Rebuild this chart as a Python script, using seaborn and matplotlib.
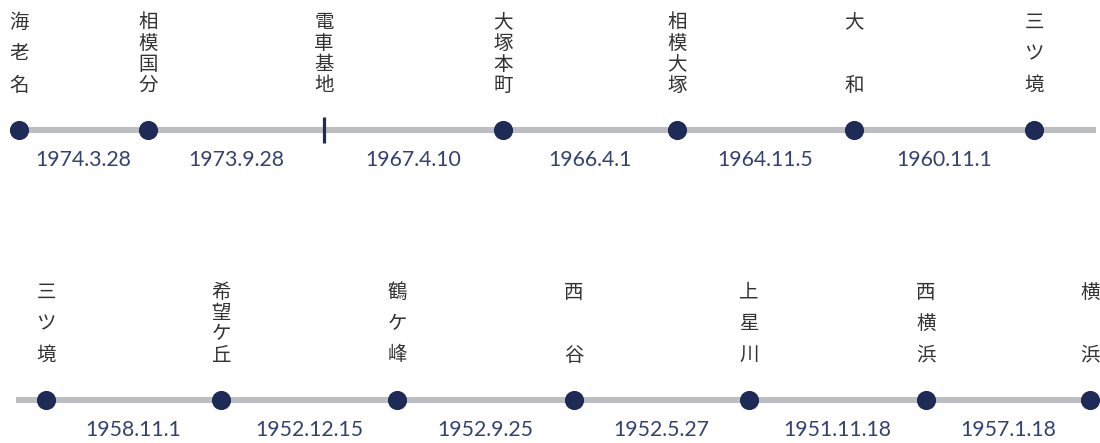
import pandas as pd
import matplotlib.pyplot as plt
import seaborn as sns

# station names, opening dates of each section, and where each stop sits on its line
top_names = ['海老名', '相模国分', '電車基地', '大塚本町', '相模大塚', '大和', '三ツ境']
top_pos = [19, 148, 324, 503, 677, 854, 1034]
top_kind = ['stop', 'stop', 'depot', 'stop', 'stop', 'stop', 'stop']
top_dates = ['1974.3.28', '1973.9.28', '1967.4.10', '1966.4.1', '1964.11.5', '1960.11.1']

bottom_names = ['三ツ境', '希望ケ丘', '鶴ケ峰', '西谷', '上星川', '西横浜', '横浜']
bottom_pos = [46, 221, 397, 574, 749, 926, 1090]
bottom_kind = ['stop'] * 7
bottom_dates = ['1958.11.1', '1952.12.15', '1952.9.25', '1952.5.27', '1951.11.18', '1957.1.18']

line_ends = [(10, 1096), (16, 1096)]
row_y = [130, 400]

navy = '#1e2b57'
grey = '#bdbec2'
date_col = '#34426f'
text_col = '#333333'

sns.set_theme(style='white')
plt.rcParams['font.family'] = ['Noto Sans CJK JP', 'DejaVu Sans']

fig = plt.figure(figsize=(11, 4.43), dpi=100)
ax = fig.add_axes([0, 0, 1, 1])

rows = [
    (top_names, top_pos, top_kind, top_dates),
    (bottom_names, bottom_pos, bottom_kind, bottom_dates),
]

for (names, pos, kind, dates), y, (x0, x1) in zip(rows, row_y, line_ends):
    line = pd.DataFrame({'x': [x0, x1], 'y': [y, y]})
    sns.lineplot(data=line, x='x', y='y', color=grey, linewidth=4.4,
                 solid_capstyle='butt', ax=ax, zorder=1)

    st = pd.DataFrame({'name': names, 'x': pos, 'kind': kind})
    st['y'] = y
    stops = st[st['kind'] == 'stop']
    depots = st[st['kind'] == 'depot']
    sns.scatterplot(data=stops, x='x', y='y', color=navy, s=190,
                    linewidth=0, ax=ax, zorder=3)
    if len(depots):
        sns.scatterplot(data=depots, x='x', y='y', color=navy, marker='|',
                        s=340, linewidth=2.3, ax=ax, zorder=3)

    # vertical, justified station names
    for name, x in zip(names, pos):
        n = len(name)
        for i, ch in enumerate(name):
            cy = y - 108 + i * 63 / (n - 1)
            ax.text(x, cy, ch, ha='center', va='center', fontsize=14,
                    color=text_col)

    # section opening dates between stops
    for i, d in enumerate(dates):
        mx = (pos[i] + pos[i + 1]) / 2
        ax.text(mx, y + 30, d, ha='center', va='center', fontsize=15.3,
                color=date_col, family=['Lato', 'DejaVu Sans'])

ax.set_xlim(0, 1100)
ax.set_ylim(443, 0)
ax.axis('off')

plt.savefig('out.png', dpi=100)
